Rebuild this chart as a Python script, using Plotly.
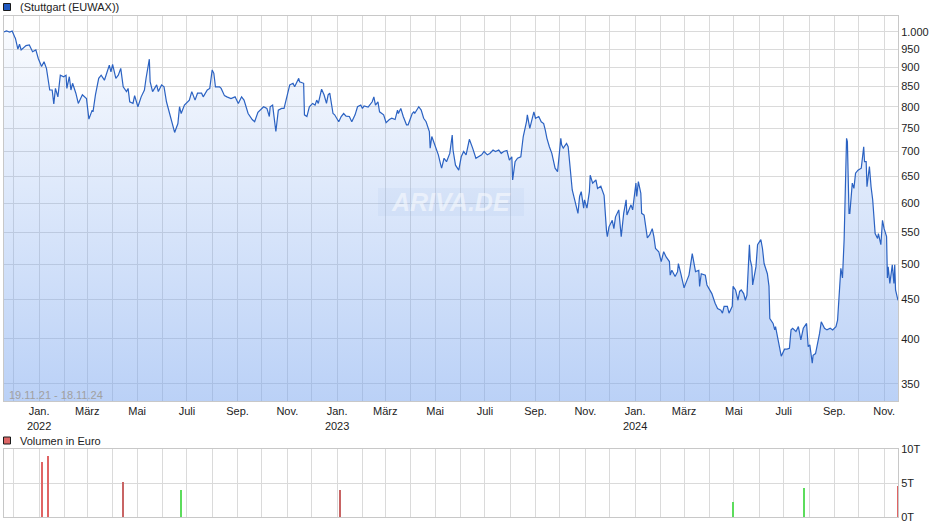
import math
import plotly.graph_objects as go
import pandas as pd

# ---------------- data ----------------
dates = [
"2021-11-19","2021-11-22","2021-11-26","2021-11-29","2021-12-02","2021-12-03","2021-12-06","2021-12-08","2021-12-10","2021-12-13",
"2021-12-16","2021-12-20","2021-12-24","2021-12-28","2021-12-31","2022-01-04","2022-01-07","2022-01-10","2022-01-14","2022-01-17",
"2022-01-19","2022-01-21","2022-01-24","2022-01-27","2022-01-31","2022-02-03","2022-02-04","2022-02-07","2022-02-09","2022-02-11",
"2022-02-15","2022-02-18","2022-02-23","2022-02-28","2022-03-03","2022-03-07","2022-03-08","2022-03-11","2022-03-15","2022-03-18",
"2022-03-22","2022-03-24","2022-03-28","2022-03-30","2022-04-01","2022-04-05","2022-04-08","2022-04-11","2022-04-14","2022-04-18",
"2022-04-20","2022-04-22","2022-04-26","2022-04-28","2022-05-02","2022-05-06","2022-05-10","2022-05-12","2022-05-16","2022-05-17",
"2022-05-20","2022-05-25","2022-05-27","2022-05-31","2022-06-03","2022-06-06","2022-06-10","2022-06-13","2022-06-16","2022-06-20",
"2022-06-22","2022-06-24","2022-06-28","2022-07-04","2022-07-07","2022-07-11","2022-07-14","2022-07-19","2022-07-21","2022-07-26",
"2022-07-29","2022-08-01","2022-08-03","2022-08-05","2022-08-10","2022-08-12","2022-08-16","2022-08-19","2022-08-24","2022-08-29",
"2022-09-02","2022-09-06","2022-09-09","2022-09-14","2022-09-19","2022-09-22","2022-09-26","2022-10-03","2022-10-07","2022-10-10",
"2022-10-11","2022-10-14","2022-10-18","2022-10-21","2022-10-25","2022-10-28","2022-10-31","2022-11-04","2022-11-08","2022-11-10",
"2022-11-15","2022-11-16","2022-11-21","2022-11-22","2022-11-25","2022-11-28","2022-12-02","2022-12-05","2022-12-07","2022-12-09",
"2022-12-13","2022-12-16","2022-12-19","2022-12-21","2022-12-23","2022-12-27","2022-12-29","2023-01-03","2023-01-06","2023-01-09",
"2023-01-12","2023-01-16","2023-01-19","2023-01-23","2023-01-26","2023-01-30","2023-02-01","2023-02-03","2023-02-08","2023-02-13",
"2023-02-15","2023-02-17","2023-02-20","2023-02-22","2023-02-27","2023-03-02","2023-03-06","2023-03-09","2023-03-13","2023-03-16",
"2023-03-17","2023-03-20","2023-03-23","2023-03-27","2023-03-29","2023-04-03","2023-04-05","2023-04-06","2023-04-11","2023-04-14",
"2023-04-17","2023-04-20","2023-04-24","2023-04-25","2023-04-27","2023-05-01","2023-05-03","2023-05-05","2023-05-08","2023-05-09",
"2023-05-12","2023-05-15","2023-05-19","2023-05-22","2023-05-23","2023-05-26","2023-05-30","2023-06-02","2023-06-05","2023-06-08",
"2023-06-12","2023-06-14","2023-06-16","2023-06-20","2023-06-23","2023-06-27","2023-06-30","2023-07-04","2023-07-07","2023-07-11",
"2023-07-14","2023-07-18","2023-07-21","2023-07-24","2023-07-28","2023-07-31","2023-08-03","2023-08-04","2023-08-07","2023-08-10",
"2023-08-14","2023-08-17","2023-08-21","2023-08-22","2023-08-25","2023-08-28","2023-08-30","2023-09-01","2023-09-05","2023-09-08",
"2023-09-11","2023-09-13","2023-09-15","2023-09-18","2023-09-21","2023-09-25","2023-09-28","2023-10-02","2023-10-03","2023-10-05",
"2023-10-09","2023-10-11","2023-10-13","2023-10-16","2023-10-19","2023-10-23","2023-10-25","2023-10-27","2023-10-30","2023-10-31",
"2023-11-03","2023-11-06","2023-11-07","2023-11-09","2023-11-10","2023-11-14","2023-11-16","2023-11-20","2023-11-22","2023-11-24",
"2023-11-27","2023-11-28","2023-11-30","2023-12-04","2023-12-06","2023-12-08","2023-12-12","2023-12-15","2023-12-18","2023-12-21",
"2023-12-22","2023-12-27","2023-12-29","2024-01-02","2024-01-03","2024-01-05","2024-01-08","2024-01-09","2024-01-12","2024-01-16",
"2024-01-19","2024-01-22","2024-01-24","2024-01-26","2024-01-30","2024-02-02","2024-02-05","2024-02-08","2024-02-12","2024-02-13",
"2024-02-15","2024-02-19","2024-02-22","2024-02-23","2024-02-26","2024-03-01","2024-03-04","2024-03-07","2024-03-11","2024-03-13",
"2024-03-15","2024-03-19","2024-03-20","2024-03-22","2024-03-27","2024-03-29","2024-04-02","2024-04-04","2024-04-08","2024-04-11",
"2024-04-15","2024-04-17","2024-04-19","2024-04-23","2024-04-25","2024-04-29","2024-04-30","2024-05-03","2024-05-06","2024-05-08",
"2024-05-10","2024-05-13","2024-05-15","2024-05-17","2024-05-20","2024-05-21","2024-05-23","2024-05-24","2024-05-28","2024-05-30",
"2024-06-03","2024-06-05","2024-06-07","2024-06-11","2024-06-13","2024-06-14","2024-06-18","2024-06-20","2024-06-21","2024-06-24",
"2024-06-26","2024-06-28","2024-07-02","2024-07-05","2024-07-08","2024-07-10","2024-07-12","2024-07-16","2024-07-19","2024-07-22",
"2024-07-25","2024-07-29","2024-07-31","2024-08-02","2024-08-05","2024-08-06","2024-08-09","2024-08-12","2024-08-14","2024-08-16",
"2024-08-20","2024-08-23","2024-08-27","2024-08-30","2024-09-03","2024-09-05","2024-09-09","2024-09-11","2024-09-13","2024-09-16",
"2024-09-17","2024-09-19","2024-09-20","2024-09-23","2024-09-25","2024-09-27","2024-09-30","2024-10-04","2024-10-07","2024-10-08",
"2024-10-10","2024-10-11","2024-10-14","2024-10-16","2024-10-18","2024-10-21","2024-10-24","2024-10-25","2024-10-28","2024-10-30",
"2024-11-01","2024-11-04","2024-11-05","2024-11-06","2024-11-08","2024-11-11","2024-11-13","2024-11-14","2024-11-15","2024-11-18",
]
prices = [
1000,1003,1000,1003,986,981,950,964,948,953,
960,962,943,948,924,902,915,897,841,841,
807,845,824,879,875,879,845,875,841,858,
833,808,829,820,771,792,788,829,871,879,
866,879,906,888,908,871,879,897,849,837,
845,812,808,827,800,824,841,871,922,862,
837,854,837,854,849,812,784,758,741,761,
800,784,804,816,837,816,833,833,824,841,
845,893,884,849,849,845,827,824,820,824,
808,824,816,784,770,765,787,800,796,777,
800,804,743,792,796,796,820,854,858,849,
871,862,858,781,777,800,808,804,816,808,
843,829,808,829,833,784,781,765,777,784,
778,777,765,781,800,804,796,802,799,812,
824,804,812,788,781,763,770,773,770,792,
784,796,777,758,758,784,788,784,800,792,
773,765,743,707,732,714,703,693,672,666,
686,679,696,735,703,672,662,689,700,693,
726,717,707,686,689,693,700,693,696,703,
700,703,696,700,702,682,689,643,679,686,
689,732,765,781,750,777,788,773,777,765,
761,746,728,710,696,666,659,728,714,707,
717,710,676,624,606,582,612,621,591,606,
591,621,652,643,637,643,627,631,624,614,
552,543,559,570,556,576,588,543,582,606,
579,597,588,637,612,640,618,582,579,541,
546,556,543,524,519,504,519,511,504,484,
491,482,489,501,486,466,475,484,516,499,
489,491,468,486,484,470,461,458,445,438,
436,432,441,441,432,441,468,463,449,461,
463,458,449,456,530,507,496,470,496,530,
538,524,501,486,468,425,419,411,415,401,
389,380,388,388,389,411,413,409,415,399,
413,419,391,393,372,381,383,395,407,421,
413,411,413,411,415,423,494,480,538,728,
721,582,582,637,627,656,662,666,710,679,
679,630,669,630,606,548,540,548,530,570,
556,543,480,496,472,499,472,499,463,449,
]

vol_dates = ["2022-01-04", "2022-01-12", "2022-04-14", "2022-06-24",
             "2023-01-04", "2024-04-30", "2024-07-26", "2024-11-18"]
vol_values = [8100, 9000, 5100, 4000, 3900, 2200, 4200, 4500]
vol_colors = ["#e06464", "#e06464", "#c86464", "#5cdc5c",
              "#c86464", "#5cdc5c", "#5cdc5c", "#e06464"]

y_ticks = [350, 400, 450, 500, 550, 600, 650, 700, 750, 800, 850, 900, 950, 1000]
y_ticktext = ["350", "400", "450", "500", "550", "600", "650", "700", "750",
              "800", "850", "900", "950", "1.000"]
vol_ticks = [0, 5000, 10000]
vol_ticktext = ["0T", "5T", "10T"]
month_labels = {1: "Jan.", 3: "März", 5: "Mai", 7: "Juli", 9: "Sep.", 11: "Nov."}
x_start, x_end = "2021-11-19", "2024-11-18"
y_min, y_max = 332.4, 1048.9

# ---------------- layout helpers ----------------
W, H = 940, 526
ML, MR, MT, MB = 4, 42, 16, 9
PW, PH = W - ML - MR, H - MT - MB
def px(x):
    return (x - ML) / PW
def py(y):
    return (H - MB - y) / PH

month_ticks = pd.date_range("2021-12-01", "2024-11-01", freq="MS")
tick_text = []
for d in month_ticks:
    if d.month == 1:
        tick_text.append(f"Jan.<br>{d.year}")
    else:
        tick_text.append(month_labels.get(d.month, ""))

FONT = "Liberation Sans, Arial, sans-serif"
GRID = "#dadada"
BORDER = "#c8c8c8"

fig = go.Figure()
fig.add_trace(go.Scatter(x=[x_start, x_end], y=[y_min, y_min], mode="lines",
                         line=dict(width=0), hoverinfo="skip", showlegend=False))
fig.add_trace(go.Scatter(
    x=dates, y=prices, mode="lines", fill="tonexty",
    line=dict(color="#2b62c2", width=1.2),
    fillgradient=dict(type="vertical",
                      colorscale=[[0, "rgba(118,163,238,0.5)"], [1, "rgba(118,163,238,0.05)"]]),
    showlegend=False))

fig.add_trace(go.Bar(x=vol_dates, y=vol_values, marker=dict(color=vol_colors, line=dict(width=0)),
                     width=[86400000 * 1.3] * len(vol_dates), xaxis="x2", yaxis="y2",
                     showlegend=False))

axis_common = dict(showgrid=True, gridcolor=GRID, gridwidth=1, showline=True,
                   linecolor=BORDER, linewidth=1, mirror=True, zeroline=False)

fig.update_layout(
    width=W, height=H, margin=dict(l=ML, r=MR, t=MT, b=MB, autoexpand=False),
    paper_bgcolor="white", plot_bgcolor="white",
    font=dict(family=FONT, size=11, color="#222222"),
    showlegend=False, bargap=0,
    xaxis=dict(type="date", range=[x_start, x_end], domain=[0, 1], anchor="y",
               tickmode="array", tickvals=list(month_ticks), ticktext=tick_text,
               ticks="", tickfont=dict(size=11, color="#222222"), automargin=False, **axis_common),
    yaxis=dict(type="log", range=[math.log10(y_min), math.log10(y_max)],
               domain=[py(401), 1], side="right", tickmode="array",
               tickvals=y_ticks, ticktext=y_ticktext, ticks="", automargin=False,
               tickfont=dict(size=11, color="#222222"), **axis_common),
    xaxis2=dict(type="date", range=[x_start, x_end], domain=[0, 1], anchor="y2",
                tickmode="array", tickvals=list(month_ticks), showticklabels=False,
                ticks="", automargin=False, **axis_common),
    yaxis2=dict(range=[0, 10000], domain=[0, py(449.3)], side="right", anchor="x2",
                tickmode="array", tickvals=vol_ticks, ticktext=vol_ticktext, ticks="",
                automargin=False, tickfont=dict(size=11, color="#222222"), **axis_common),
)

shapes = [
    dict(type="rect", xref="paper", yref="paper", x0=px(3.5), x1=px(10.5), y0=py(10.5), y1=py(3.5),
         fillcolor="#1f58c0", line=dict(color="#1a1a1a", width=1)),
    dict(type="rect", xref="paper", yref="paper", x0=px(3.5), x1=px(10.5), y0=py(444), y1=py(437),
         fillcolor="#dd6666", line=dict(color="#1a1a1a", width=1)),
    dict(type="rect", xref="paper", yref="paper", x0=px(378), x1=px(524), y0=py(216), y1=py(188),
         fillcolor="rgba(150,180,230,0.10)", line=dict(width=0), layer="above"),
]
annotations = [
    dict(text="(Stuttgart (EUWAX))", xref="paper", yref="paper", x=px(17.5), y=py(7),
         xanchor="left", yanchor="middle", showarrow=False,
         font=dict(size=11, color="#222222", family=FONT)),
    dict(text="Volumen in Euro", xref="paper", yref="paper", x=px(17.5), y=py(440.5),
         xanchor="left", yanchor="middle", showarrow=False,
         font=dict(size=11, color="#222222", family=FONT)),
    dict(text="19.11.21 - 18.11.24", xref="paper", yref="paper", x=px(7), y=py(394.5),
         xanchor="left", yanchor="middle", showarrow=False,
         font=dict(size=11, color="#a0a0a0", family=FONT)),
    dict(text="ARIVA.DE", xref="paper", yref="paper", x=px(451), y=py(202),
         xanchor="center", yanchor="middle", showarrow=False,
         font=dict(size=25, color="rgba(255,255,255,0.5)", family=FONT, style="italic", weight="bold")),
]
fig.update_layout(shapes=shapes, annotations=annotations)

fig.write_html("out.html", config={"displayModeBar": False},
               post_script="document.body.style.margin='0px';")
